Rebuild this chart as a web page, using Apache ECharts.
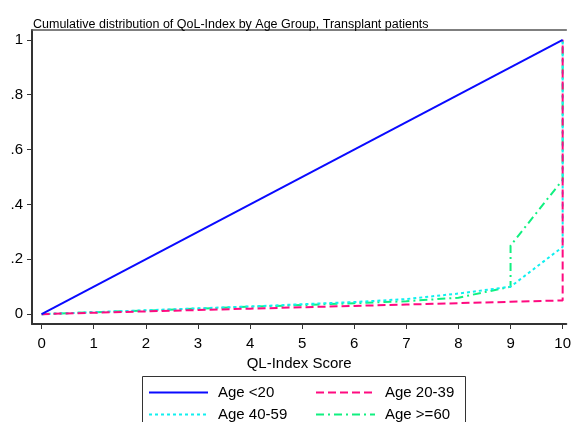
<!DOCTYPE html>
<html><head><meta charset="utf-8">
<script src="https://cdn.jsdelivr.net/npm/echarts@6/dist/echarts.min.js"></script>
<style>html,body{margin:0;padding:0;background:#fff}#c{width:574px;height:422px}</style>
</head><body><div id="c"></div>
<script>
var titleText = 'Cumulative distribution of QoL-Index by Age Group, Transplant patients';
var xTicks = [0,1,2,3,4,5,6,7,8,9,10];
var yTicks = [0,0.2,0.4,0.6,0.8,1];
var yTickLabels = ['0','.2','.4','.6','.8','1'];
var seriesNames = ['Age <20','Age 20-39','Age 40-59','Age >=60'];
var age20X = [0,10];
var age20Y = [0,1];
var age2039X = [0,1,2,3,4,5,6,7,8,9,10,10];
var age2039Y = [0,0.005,0.01,0.015,0.02,0.025,0.03,0.035,0.04,0.045,0.05,1];
var age4059X = [0,1,2,3,4,5,6,7,8,9,10,10];
var age4059Y = [0,0.007,0.014,0.021,0.028,0.036,0.044,0.055,0.075,0.1,0.245,1];
var age60X = [0,1,2,3,4,5,6,7,8,9,9,10,10];
var age60Y = [0,0.007,0.013,0.02,0.027,0.033,0.04,0.047,0.06,0.1,0.25,0.49,1];
var colors = ['#0a0aff','#ff0a80','#10f0f0','#10f080'];

function pts(xs, ys){ return xs.map(function(x,i){return [x, ys[i]];}); }
var FONT = 'Liberation Sans, Arial, sans-serif';
var chart = echarts.init(document.getElementById('c'), null, {renderer:'canvas'});
var lineTypes = ['solid',[8,4],[3,3],[8,4,2,4]];
var datas = [pts(age20X,age20Y), pts(age2039X,age2039Y), pts(age4059X,age4059Y), pts(age60X,age60Y)];
var series = seriesNames.map(function(n,i){
  return {name:n, type:'line', data:datas[i], showSymbol:false, symbol:'none', animation:false,
    lineStyle:{color:colors[i], width:2, type:lineTypes[i]}, itemStyle:{color:colors[i]}, z: 10-i};
});
var legendPos = [[148,385],[315,385],[148,407],[315,407]];
var legends = seriesNames.map(function(n,i){
  return {data:[n], left:legendPos[i][0], top:legendPos[i][1], itemWidth:59, itemHeight:14, padding:0,
    itemStyle:{opacity:0, borderWidth:0},
    textStyle:{fontFamily:FONT, fontSize:15, color:'#000', padding:[0,0,0,5]}, selectedMode:false};
});
chart.setOption({
  backgroundColor:'#fff',
  animation:false,
  title:{text:titleText, left:28, top:13, textStyle:{fontFamily:FONT, fontSize:12.5, fontWeight:'normal', color:'#000'}},
  grid:{left:32, right:0, top:30, bottom:98, containLabel:false},
  legend: legends,
  xAxis:[{type:'value', min:-0.185, max:10.07, position:'bottom',
    axisLine:{show:true, onZero:false, lineStyle:{color:'#333', width:2}},
    axisTick:{show:true, customValues:xTicks, length:5, lineStyle:{color:'#333', width:1}},
    axisLabel:{customValues:xTicks, margin:12, fontFamily:FONT, fontSize:15, color:'#000'},
    splitLine:{show:false},
    name:'QL-Index Score', nameLocation:'middle', nameGap:26, nameTextStyle:{fontFamily:FONT, fontSize:15, color:'#000'}},
   {type:'value', min:-0.185, max:10.07, position:'top',
    axisLine:{show:true, onZero:false, lineStyle:{color:'#555', width:1.5}},
    axisTick:{show:false}, axisLabel:{show:false}, splitLine:{show:false}}],
  yAxis:{type:'value', min:-0.036, max:1.036,
    axisLine:{show:true, onZero:false, lineStyle:{color:'#333', width:2}},
    axisTick:{show:true, customValues:yTicks, length:5, lineStyle:{color:'#333', width:1}},
    axisLabel:{customValues:yTicks, margin:9, fontFamily:FONT, fontSize:15, color:'#000',
      formatter:function(v){ var i=yTicks.indexOf(v); return i>=0?yTickLabels[i]:''; }},
    splitLine:{show:false}},
  graphic:[{type:'rect', shape:{x:142.5, y:376.5, width:323, height:60}, style:{fill:'none', stroke:'#333', lineWidth:1}, z:-1}],
  series: series
});
</script></body></html>
